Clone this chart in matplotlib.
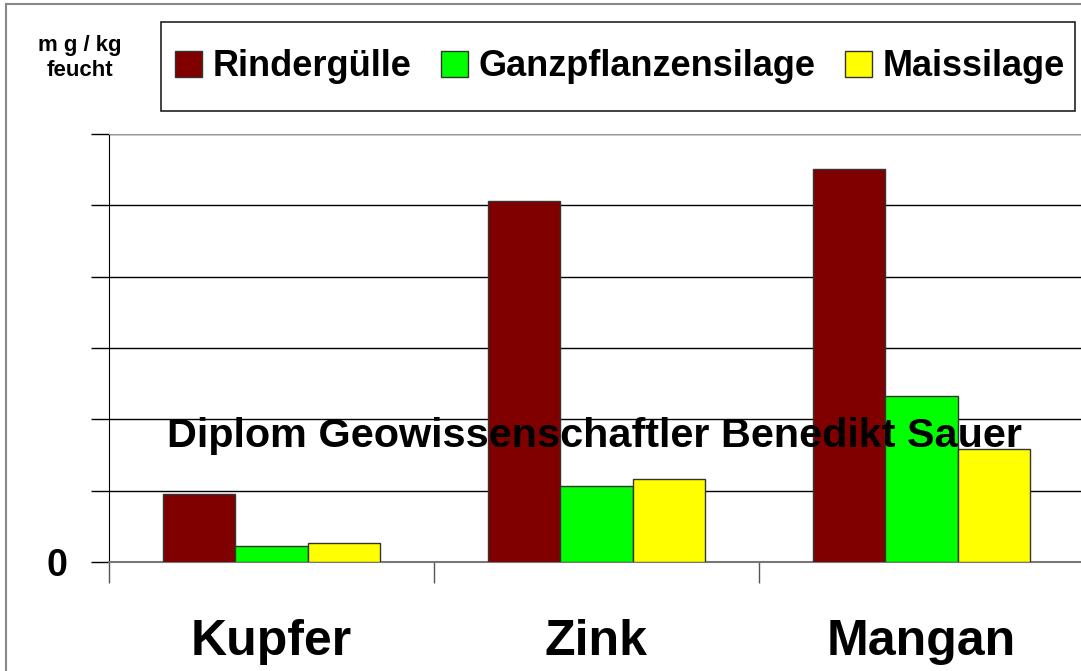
import numpy as np
import matplotlib
matplotlib.use("Agg")
import matplotlib.pyplot as plt
from matplotlib.patches import Rectangle
from matplotlib.lines import Line2D

plt.rcParams['font.family'] = ['Liberation Sans', 'DejaVu Sans']
plt.rcParams['font.weight'] = 'bold'

# Daten (mg/kg feucht)
categories = ['Kupfer', 'Zink', 'Mangan']
series = ['Rindergülle', 'Ganzpflanzensilage', 'Maissilage']
rindergulle = [0.95, 5.06, 5.51]
ganzpflanzen = [0.23, 1.07, 2.33]
maissilage = [0.26, 1.16, 1.59]
colors = ['#800000', '#00FF00', '#FFFF00']

W, H = 1081, 671
fig = plt.figure(figsize=(W / 100, H / 100), dpi=100)
ax = fig.add_axes([109 / W, 1 - 562 / H, (1084 - 109) / W, (562 - 134) / H])

x = np.arange(len(categories))
bw = 0.222
handles = []
for i, (vals, col, name) in enumerate(zip([rindergulle, ganzpflanzen, maissilage], colors, series)):
    b = ax.bar(x + (i - 1) * bw, vals, bw, color=col, edgecolor='#333333',
               linewidth=1, label=name, zorder=3)
    handles.append(b)

ax.set_xlim(-0.5, 2.5)
ax.set_ylim(0, 6)
ax.set_yticks(np.arange(0, 7))
ax.set_yticklabels(['0', '', '', '', '', '', ''])
ax.yaxis.grid(True, color='black', linewidth=1, zorder=0)
ax.set_axisbelow(True)
ax.tick_params(axis='y', direction='out', length=13, width=1, color='black',
               labelsize=27, pad=17)
ax.set_xticks([-0.5, 0.5, 1.5])
ax.set_xticks(x, minor=True)
ax.set_xticklabels(['', '', ''])
ax.set_xticklabels(categories, minor=True, fontsize=36, fontweight='bold')
ax.tick_params(axis='x', which='major', direction='out', length=15, width=1, color='#555555')
ax.tick_params(axis='x', which='minor', length=0, pad=41)

ax.spines['right'].set_visible(False)
ax.spines['top'].set_color('#999999')
ax.spines['bottom'].set_color('#777777')
ax.spines['left'].set_color('black')
ax.spines['bottom'].set_linewidth(1.5)

# Wasserzeichen
ax.text(0.995, 1.77, 'Diplom Geowissenschaftler Benedikt Sauer', ha='center', va='center',
        fontsize=29.8, fontweight='bold', color='black', zorder=5)

# Einheit
fig.text(80 / W, 1 - 58 / H, 'm g / kg\nfeucht', ha='center', va='center',
         fontsize=16, fontweight='bold', linespacing=1.25)

# Legende
fig.patches.append(Rectangle((161 / W, 1 - 111 / H), (1075 - 161) / W, 89 / H,
                             transform=fig.transFigure, fill=False,
                             edgecolor='#222222', linewidth=1.2))
fig.legend(handles=handles, labels=series, loc='center',
           bbox_to_anchor=(620 / W, 1 - 67 / H), ncol=3, frameon=False,
           handlelength=0.75, handleheight=0.75, handletextpad=0.3,
           columnspacing=0.8, prop={'weight': 'bold', 'size': 26})

# Rahmen
fig.add_artist(Line2D([6 / W, 6 / W], [0, 1 - 4 / H], transform=fig.transFigure,
                      color='#888888', linewidth=1.5))
fig.add_artist(Line2D([6 / W, 1], [1 - 4 / H, 1 - 4 / H], transform=fig.transFigure,
                      color='#888888', linewidth=1.5))

fig.savefig('out.png', dpi=100)
